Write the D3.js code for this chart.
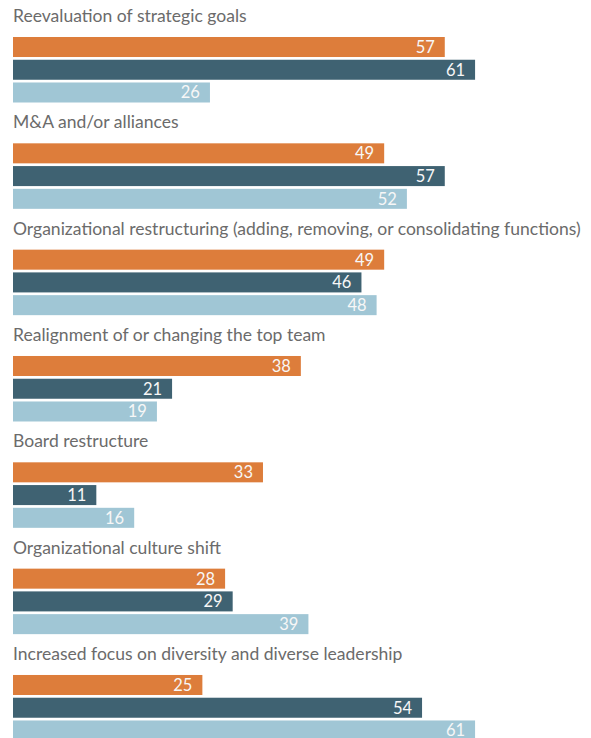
<!DOCTYPE html>
<html>
<head>
<meta charset="utf-8">
<script src="https://cdn.jsdelivr.net/npm/d3@7"></script>
<style>
  html, body { margin: 0; padding: 0; background: #ffffff; }
  svg { display: block; }
</style>
</head>
<body>
<svg id="chart" width="591" height="738"></svg>
<script>
// Survey categories (one group of three bars each)
const categories = [
  "Reevaluation of strategic goals",
  "M&A and/or alliances",
  "Organizational restructuring (adding, removing, or consolidating functions)",
  "Realignment of or changing the top team",
  "Board restructure",
  "Organizational culture shift",
  "Increased focus on diversity and diverse leadership"
];

// Three respondent series, in drawing order (top to bottom within a group)
const seriesKeys = ["a", "b", "c"];
const seriesA = [57, 49, 49, 38, 33, 28, 25];
const seriesB = [61, 57, 46, 21, 11, 29, 54];
const seriesC = [26, 52, 48, 19, 16, 39, 61];
const seriesColors = ["#dd7d3b", "#3f6272", "#a0c6d5"];

const rows = categories.map((name, i) => ({
  name,
  values: [seriesA[i], seriesB[i], seriesC[i]]
}));

const svg = d3.select("#chart");
const left = 13;
const fontFamily = "Lato, 'Open Sans', sans-serif";

// Horizontal value scale
const x = d3.scaleLinear().domain([0, 100]).range([left, left + 757.5]);

// Vertical group placement
const groupY = d3.scaleBand()
  .domain(categories)
  .range([37, 37 + 106.33 * categories.length])
  .paddingInner(0)
  .paddingOuter(0);

const barY = d3.scaleBand()
  .domain(seriesKeys)
  .range([0, 65.5])
  .paddingInner(0.12)
  .paddingOuter(0);

const groups = svg.selectAll("g.group")
  .data(rows)
  .join("g")
  .attr("class", "group")
  .attr("transform", d => `translate(0,${groupY(d.name)})`);

// Category titles above each group
const titles = groups.append("text")
  .attr("x", left)
  .attr("y", -15)
  .attr("fill", "#6b6b6b")
  .style("font-family", fontFamily)
  .style("font-size", "16px")
  .text(d => d.name);

// Fit the longest title to the width available
let maxW = 0;
titles.each(function () { maxW = Math.max(maxW, this.getComputedTextLength()); });
const titleSize = 16 * 568 / maxW;
titles.style("font-size", titleSize + "px");

const bars = groups.selectAll("g.bar")
  .data(d => d.values.map((v, j) => ({ key: seriesKeys[j], value: v, color: seriesColors[j] })))
  .join("g")
  .attr("class", "bar");

bars.append("rect")
  .attr("x", x(0))
  .attr("y", d => barY(d.key))
  .attr("width", d => x(d.value) - x(0))
  .attr("height", barY.bandwidth())
  .attr("fill", d => d.color);

// Value labels inside the bar ends
bars.append("text")
  .attr("x", d => x(d.value) - 10)
  .attr("y", d => barY(d.key) + barY.bandwidth() / 2)
  .attr("dy", "0.36em")
  .attr("text-anchor", "end")
  .attr("fill", "#f7f7f7")
  .style("font-family", fontFamily)
  .style("font-size", "16.5px")
  .text(d => d.value);
</script>
</body>
</html>
